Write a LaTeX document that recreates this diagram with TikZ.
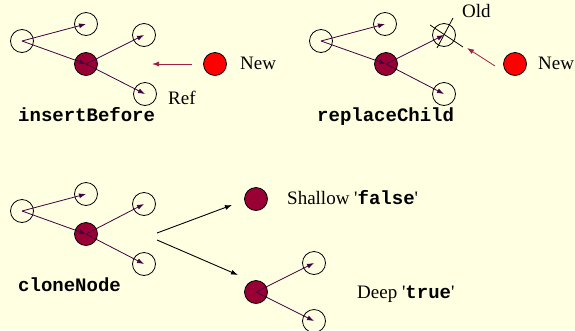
\documentclass[tikz,border=0pt]{standalone}
\usepackage{fontspec}
\setmainfont{Liberation Serif}
\setmonofont{Liberation Mono}
\usetikzlibrary{arrows.meta}
\definecolor{bgc}{HTML}{FFFFE1}
\definecolor{maroon}{HTML}{990033}
\definecolor{edgec}{HTML}{400040}
\definecolor{redarr}{HTML}{A0204A}
\tikzset{
  opennode/.style={circle,draw=black,line width=0.8pt,minimum size=23pt,inner sep=0pt},
  darknode/.style={circle,draw=black,fill=maroon,line width=0.8pt,minimum size=23pt,inner sep=0pt},
  rednode/.style={circle,draw=black,fill=red,line width=0.8pt,minimum size=23pt,inner sep=0pt},
  treeedge/.style={draw=edgec,line width=0.8pt,-{Latex[length=7pt,width=5pt]}},
  newedge/.style={draw=redarr,line width=0.8pt,-{Latex[length=7pt,width=5pt]}},
  cloneedge/.style={draw=black,line width=0.9pt,-{Latex[length=7pt,width=5pt]}},
  serif/.style={inner sep=0pt,anchor=base west,font=\fontsize{19}{22}\selectfont},
  mono/.style={inner sep=0pt,anchor=base west,font=\fontsize{19}{22}\selectfont\ttfamily\bfseries},
}
\begin{document}
\begin{tikzpicture}[x=1pt,y=-1pt]
\fill[bgc] (0,0) rectangle (575,330);
\useasboundingbox (0,0) rectangle (575,330);
% insertBefore
\node[opennode] (ar) at (22,41) {};
\node[opennode] (ac1) at (86,24) {};
\node[darknode] (ad) at (86,64) {};
\node[opennode] (ac2) at (144,35) {};
\node[opennode] (ac3) at (145,94) {};
\node[rednode] (anew) at (215,64) {};
\draw[treeedge] (ar.center) -- (ac1.center);
\draw[treeedge] (ar.center) -- (ad.center);
\draw[treeedge] (ad.center) -- (ac2.center);
\draw[treeedge] (ad.center) -- (ac3.center);
\coordinate (as) at (192,64);
\coordinate (at) at (152,64);
\draw[newedge] (as) -- (at);
\node[serif] (anewt) at (240,69) {New};
\node[serif] (areft) at (168,104) {Ref};
\node[mono] (alab) at (18,121) {insertBefore};
% replaceChild
\node[opennode] (br) at (321,41) {};
\node[opennode] (bc1) at (385,24) {};
\node[darknode] (bd) at (386,64) {};
\node[opennode] (bold) at (444,35) {};
\node[opennode] (bc3) at (444,94) {};
\node[rednode] (bnew) at (515,64) {};
\draw[treeedge] (br.center) -- (bc1.center);
\draw[treeedge] (br.center) -- (bd.center);
\draw[treeedge] (bd.center) -- (bold.center);
\draw[treeedge] (bd.center) -- (bc3.center);
\coordinate (bx1) at (430,25);
\coordinate (bx2) at (463,47);
\coordinate (bx3) at (453,18);
\coordinate (bx4) at (437,48);
\draw[line width=0.8pt] (bx1) -- (bx2);
\draw[line width=0.8pt] (bx3) -- (bx4);
\coordinate (bs) at (495,66);
\coordinate (bt) at (467,48);
\draw[newedge] (bs) -- (bt);
\node[serif] (boldt) at (462,17) {Old};
\node[serif] (bnewt) at (538,69) {New};
\node[mono] (blab) at (317,121) {replaceChild};
% cloneNode
\node[opennode] (cr) at (22,211) {};
\node[opennode] (cc1) at (86,194) {};
\node[darknode] (cd) at (86,234) {};
\node[opennode] (cc2) at (144,204) {};
\node[opennode] (cc3) at (144,264) {};
\draw[treeedge] (cr.center) -- (cc1.center);
\draw[treeedge] (cr.center) -- (cd.center);
\draw[treeedge] (cd.center) -- (cc2.center);
\draw[treeedge] (cd.center) -- (cc3.center);
\node[mono] (clab) at (18,291) {cloneNode};
\coordinate (cs1) at (157,233);
\coordinate (ct1) at (232,205);
\coordinate (cs2) at (157,240);
\coordinate (ct2) at (238,275);
\draw[cloneedge] (cs1) -- (ct1);
\draw[cloneedge] (cs2) -- (ct2);
\node[darknode] (sd) at (256,199) {};
\node[serif] (st) at (287,204) {Shallow \textquotesingle\texttt{\bfseries false}\textquotesingle};
\node[darknode] (dd) at (256,292) {};
\node[opennode] (dc1) at (314,263) {};
\node[opennode] (dc2) at (314,321) {};
\draw[treeedge] (dd.center) -- (dc1.center);
\draw[treeedge] (dd.center) -- (dc2.center);
\node[serif] (dt) at (357,298) {Deep \textquotesingle\texttt{\bfseries true}\textquotesingle};
\end{tikzpicture}
\end{document}
